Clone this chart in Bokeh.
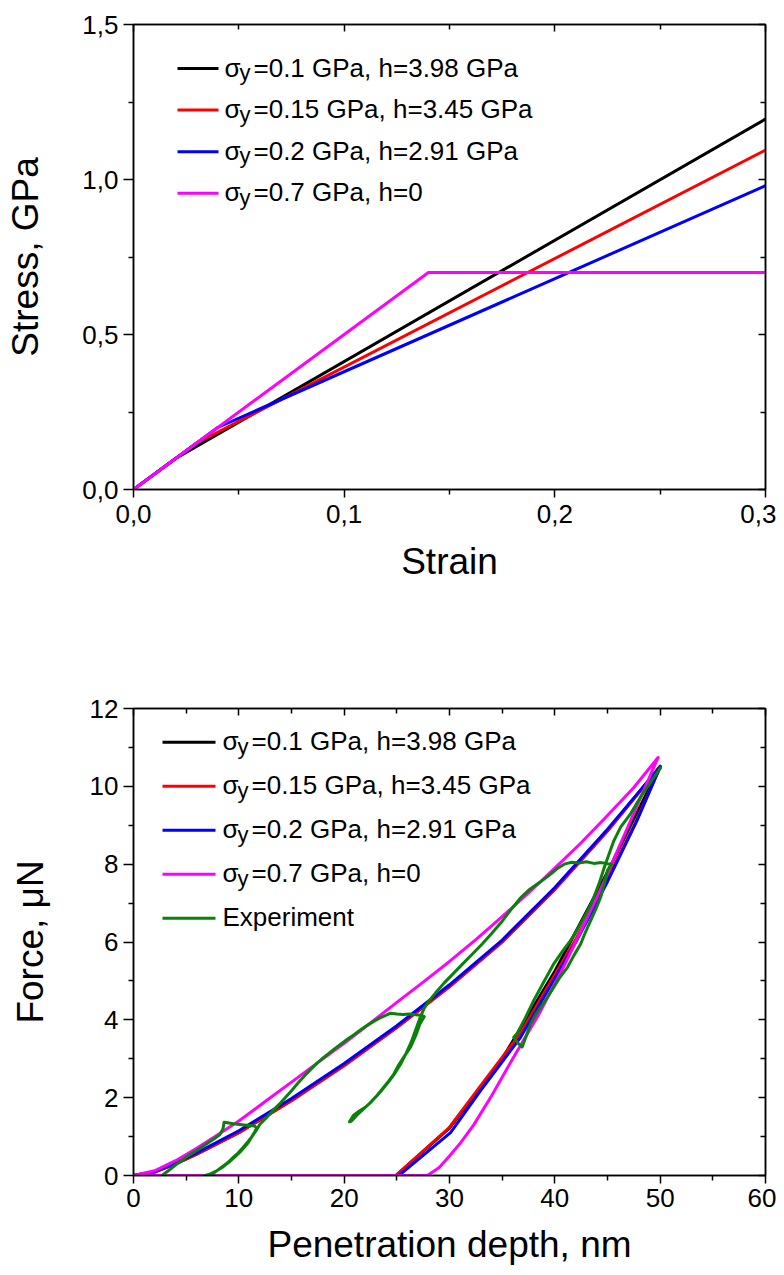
from bokeh.plotting import figure
from bokeh.layouts import column
from bokeh.models import Range1d, FixedTicker, LinearAxis, CustomJSTickFormatter, Label
from bokeh.embed import file_html
from bokeh.resources import INLINE

FONT = "Liberation Sans"

# ---------------- top panel data (stress-strain models) ----------------
strain_s010 = [0.0, 0.02, 0.30]
stress_s010 = [0.0, 0.10, 1.195]
strain_s015 = [0.0, 0.03, 0.30]
stress_s015 = [0.0, 0.15, 1.095]
strain_s020 = [0.0, 0.04, 0.30]
stress_s020 = [0.0, 0.20, 0.98]
strain_s070 = [0.0, 0.14, 0.30]
stress_s070 = [0.0, 0.70, 0.70]

top_xticks = [0.0, 0.1, 0.2, 0.3]
top_xminor = [0.05, 0.15, 0.25]
top_yticks = [0.0, 0.5, 1.0, 1.5]
top_yminor = [0.25, 0.75, 1.25]

# ---------------- bottom panel data (force-depth) ----------------
depth_s010 = [0, 2, 4, 6, 10, 15, 20, 25, 30, 35, 40, 45, 50, 45, 40, 35, 30, 24.9, 0]
force_s010 = [0, 0.09, 0.30, 0.55, 1.10, 1.93, 2.83, 3.81, 4.86, 6.01, 7.36, 8.86, 10.52,
              7.80, 5.25, 3.00, 1.22, 0, 0]
depth_s015 = [0, 2, 4, 6, 10, 15, 20, 25, 30, 35, 40, 45, 50, 47.8, 45, 42, 39, 36.75, 33, 30, 24.9, 0]
force_s015 = [0, 0.09, 0.30, 0.55, 1.10, 1.92, 2.82, 3.80, 4.85, 6.00, 7.35, 8.85, 10.50,
              9.15, 7.62, 6.08, 4.70, 3.66, 2.32, 1.24, 0, 0]
depth_s020 = [0, 2, 4, 6, 10, 15, 20, 25, 30, 35, 40, 45, 50, 47.8, 45, 42, 39, 36.75, 33, 30.1, 25.2, 0]
force_s020 = [0, 0.10, 0.32, 0.58, 1.15, 1.98, 2.88, 3.85, 4.90, 6.05, 7.40, 8.90, 10.50,
              9.12, 7.55, 6.00, 4.60, 3.55, 2.20, 1.10, 0, 0]
depth_s070 = [0, 2, 4, 6, 8, 10, 12.5, 15, 17.5, 20, 22.5, 25, 27.5, 30, 32.5, 35, 37.5, 40,
              42.5, 45, 47.5, 49.8,
              47, 44, 41, 38.5, 36, 34, 32.3, 31, 30, 29, 27.9, 0]
force_s070 = [0, 0.12, 0.38, 0.70, 1.05, 1.40, 1.90, 2.40, 2.90, 3.40, 3.92, 4.45, 4.97,
              5.50, 6.06, 6.65, 7.26, 7.90, 8.55, 9.25, 9.97, 10.74,
              9.00, 7.15, 5.45, 4.15, 3.00, 2.05, 1.30, 0.82, 0.50, 0.20, 0, 0]

depth_exp = [2.7, 3.3, 3.9, 4.4, 5.0, 5.5, 6.1, 6.6, 7.2, 7.7, 8.2, 8.5, 8.6,
             9.5, 10.5, 11.5, 11.7,
             11.5, 11.2, 10.9, 10.5, 10.1, 9.6, 9.1, 8.5, 7.9, 7.3, 6.8,
             7.2, 7.7, 8.3, 8.9, 9.4, 9.9, 10.4, 10.9, 11.3, 11.7, 12.0,
             12.6, 13.2, 13.8, 14.4, 15.0, 15.6, 16.2, 16.8, 17.4, 18.0, 18.6, 19.2, 19.8,
             20.4, 21.0, 21.6, 22.2, 22.8, 23.4, 24.0, 24.4,
             25.0, 25.6, 26.2, 26.8, 27.3, 27.6,
             27.2, 26.8, 26.3, 25.8, 25.2, 24.7, 24.2, 23.7, 23.1, 22.6, 22.0, 21.4, 20.9, 20.5,
             20.7, 21.2, 21.8, 22.4, 23.0, 23.6, 24.2, 24.8, 25.4, 25.9, 26.4, 26.8, 27.2, 27.6, 28.1,
             28.7, 29.5, 30.4, 31.3, 32.2, 33.1, 34.0, 34.9, 35.8, 36.7, 37.6, 38.5, 39.4, 40.2, 40.9, 41.6,
             42.3, 43.0, 43.7, 44.4, 45.0, 45.4,
             45.0, 44.7, 44.35, 43.9, 43.4, 42.9, 42.45, 41.8, 41.2, 40.5, 39.9, 39.3, 38.65, 38.1,
             37.7, 37.3, 36.9, 36.5, 36.1, 36.4,
             37.2, 38.0, 39.0, 39.9, 40.7, 41.5, 42.2, 42.8, 43.3, 43.7, 44.2, 44.7, 45.2, 45.6,
             46.25, 47.2, 48.2, 49.2, 50.1]
force_exp = [0.0, 0.12, 0.25, 0.35, 0.47, 0.56, 0.66, 0.75, 0.86, 0.95, 1.05, 1.20, 1.37,
             1.33, 1.30, 1.27, 1.22,
             1.12, 0.98, 0.85, 0.72, 0.60, 0.47, 0.35, 0.22, 0.12, 0.04, 0.0,
             0.0, 0.08, 0.20, 0.32, 0.45, 0.57, 0.72, 0.88, 1.02, 1.18, 1.32,
             1.48, 1.66, 1.82, 2.00, 2.18, 2.37, 2.55, 2.72, 2.88, 3.02, 3.15, 3.28, 3.40,
             3.52, 3.63, 3.75, 3.86, 3.96, 4.05, 4.12, 4.17,
             4.15, 4.14, 4.15, 4.13, 4.12, 4.08,
             3.90, 3.60, 3.30, 3.10, 2.85, 2.60, 2.42, 2.25, 2.05, 1.90, 1.75, 1.65, 1.55, 1.38,
             1.40, 1.55, 1.70, 1.85, 2.02, 2.20, 2.40, 2.62, 2.88, 3.15, 3.45, 3.75, 4.05, 4.30, 4.50,
             4.70, 4.95, 5.20, 5.45, 5.70, 5.95, 6.22, 6.50, 6.82, 7.12, 7.35, 7.52, 7.70, 7.88, 8.00, 8.05,
             8.03, 8.06, 8.02, 8.04, 8.01, 8.00,
             7.84, 7.50, 7.15, 6.85, 6.55, 6.25, 5.95, 5.65, 5.35, 5.10, 4.84, 4.58, 4.32, 4.10,
             3.90, 3.60, 3.30, 3.40, 3.55, 3.64,
             4.05, 4.50, 5.00, 5.44, 5.75, 6.04, 6.35, 6.64, 6.90, 7.15, 7.50, 7.92, 8.30, 8.60,
             8.95, 9.30, 9.75, 10.15, 10.50]

bot_xticks = [0, 10, 20, 30, 40, 50, 60]
bot_xminor = [5, 15, 25, 35, 45, 55]
bot_yticks = [0, 2, 4, 6, 8, 10, 12]
bot_yminor = [1, 3, 5, 7, 9, 11]

model_labels = [("0.1", "3.98 GPa"), ("0.15", "3.45 GPa"), ("0.2", "2.91 GPa"), ("0.7", "0")]
colors = ["#000000", "#ff0000", "#0000ff", "#ff00ff"]
exp_color = "#0a820a"
exp_label = "Experiment"

TICK_FS = "26px"
TITLE_FS = "37px"
LEG_FS = "26px"


def style(p, xt, xm, yt, ym, fmt_code, tick_standoff, title_standoff, ylabel_standoff):
    p.xgrid.grid_line_color = None
    p.ygrid.grid_line_color = None
    p.outline_line_color = "black"
    p.outline_line_width = 1.5
    p.outline_line_alpha = 1.0
    fmt = CustomJSTickFormatter(code=fmt_code)
    for ax, t, m in ((p.xaxis[0], xt, xm), (p.yaxis[0], yt, ym)):
        ax.ticker = FixedTicker(ticks=t, minor_ticks=m)
        ax.formatter = fmt
        ax.axis_line_color = "black"
        ax.axis_line_width = 1.5
        ax.major_tick_line_color = "black"
        ax.minor_tick_line_color = "black"
        ax.major_tick_line_width = 1.5
        ax.minor_tick_line_width = 1.5
        ax.major_tick_in = 0
        ax.minor_tick_in = 0
        ax.major_label_text_font = FONT
        ax.major_label_text_font_size = TICK_FS
        ax.major_label_text_color = "black"
        ax.axis_label_text_font = FONT
        ax.axis_label_text_font_size = TITLE_FS
        ax.axis_label_text_font_style = "normal"
        ax.axis_label_text_color = "black"
    p.xaxis[0].major_tick_out = 8
    p.xaxis[0].minor_tick_out = 5
    p.xaxis[0].major_label_standoff = tick_standoff
    p.xaxis[0].axis_label_standoff = title_standoff
    p.yaxis[0].major_tick_out = 10
    p.yaxis[0].minor_tick_out = 5
    p.yaxis[0].major_label_standoff = 5
    p.yaxis[0].axis_label_standoff = ylabel_standoff
    # mirrored axes (ticks only, labels not drawn)
    for loc, t, m in (("above", xt, xm), ("right", yt, ym)):
        ax = LinearAxis(ticker=FixedTicker(ticks=t, minor_ticks=m))
        ax.major_label_text_font_size = "1px"
        ax.major_label_text_color = None
        ax.major_label_standoff = 0
        ax.axis_line_color = "black"
        ax.axis_line_width = 1.5
        ax.major_tick_line_width = 1.5
        ax.minor_tick_line_width = 1.5
        ax.major_tick_in = 7
        ax.major_tick_out = 0
        ax.minor_tick_in = 5
        ax.minor_tick_out = 0
        p.add_layout(ax, loc)


def px2data(p, fx, fy, fw, fh):
    x0, x1 = p.x_range.start, p.x_range.end
    y0, y1 = p.y_range.start, p.y_range.end
    return x0 + fx / fw * (x1 - x0), y1 - fy / fh * (y1 - y0)


def add_legend(p, fw, fh, lx0, lx1, tx, row0, drow, entries):
    for i, (col, parts) in enumerate(entries):
        fy = row0 + i * drow
        xa, y = px2data(p, lx0, fy, fw, fh)
        xb, _ = px2data(p, lx1, fy, fw, fh)
        xt, _ = px2data(p, tx, fy, fw, fh)
        p.line([xa, xb], [y, y], line_color=col, line_width=3)
        if parts is None:
            p.add_layout(Label(x=xt, y=y, text=exp_label, text_font=FONT, text_font_size=LEG_FS,
                               text_baseline="alphabetic", y_offset=1, text_color="black"))
        else:
            sy, hv = parts
            p.add_layout(Label(x=xt, y=y, text="σ", text_font=FONT, text_font_size=LEG_FS,
                               text_baseline="alphabetic", y_offset=1, text_color="black"))
            p.add_layout(Label(x=xt, y=y, text="y", text_font=FONT, text_font_size="22px",
                               text_baseline="alphabetic", x_offset=15, y_offset=-4, text_color="black"))
            p.add_layout(Label(x=xt, y=y, text="=%s GPa, h=%s" % (sy, hv), text_font=FONT,
                               text_font_size=LEG_FS, text_baseline="alphabetic",
                               x_offset=29, y_offset=1, text_color="black"))


# ---------------- top figure ----------------
p1 = figure(width=776, height=598, output_backend="svg", toolbar_location=None,
            x_range=Range1d(0, 0.3), y_range=Range1d(0, 1.5),
            min_border_left=133, min_border_right=11, min_border_top=24, min_border_bottom=109,
            x_axis_label="Strain", y_axis_label="Stress, GPa")
style(p1, top_xticks, top_xminor, top_yticks, top_yminor,
      "return tick.toFixed(1).replace('.', ',');", 7, 15, 33)
for xs, ys, c in ((strain_s010, stress_s010, colors[0]), (strain_s015, stress_s015, colors[1]),
                  (strain_s020, stress_s020, colors[2]), (strain_s070, stress_s070, colors[3])):
    p1.line(xs, ys, line_color=c, line_width=3)
add_legend(p1, 632, 465, 44, 85, 91, 44, 41.6,
           [(colors[i], model_labels[i]) for i in range(4)])

# ---------------- bottom figure ----------------
p2 = figure(width=776, height=677, output_backend="svg", toolbar_location=None,
            x_range=Range1d(0, 60), y_range=Range1d(0, 12),
            min_border_left=133, min_border_right=11, min_border_top=110, min_border_bottom=100,
            x_axis_label="Penetration depth, nm", y_axis_label="Force, μN")
style(p2, bot_xticks, bot_xminor, bot_yticks, bot_yminor,
      "return tick.toFixed(0);", 5, 14, 36)
for xs, ys, c in ((depth_s010, force_s010, colors[0]), (depth_s015, force_s015, colors[1]),
                  (depth_s020, force_s020, colors[2]), (depth_s070, force_s070, colors[3])):
    p2.line(xs, ys, line_color=c, line_width=3, line_join="round")
p2.line(depth_exp, force_exp, line_color=exp_color, line_width=3, line_join="round")
add_legend(p2, 632, 467, 29, 82, 89, 33.7, 44,
           [(colors[i], model_labels[i]) for i in range(4)] + [(exp_color, None)])

layout = column(p1, p2)
open("out.html", "w").write(file_html(layout, INLINE))
